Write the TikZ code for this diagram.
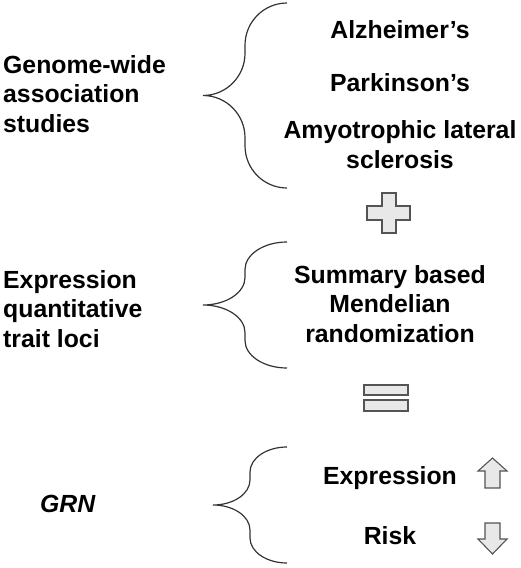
\documentclass[tikz,border=0pt]{standalone}
\usepackage{fontspec}
\setmainfont{Liberation Sans}
\usepackage{tikz}
\definecolor{mgray}{rgb}{0.91, 0.91, 0.91}
\definecolor{dgray}{rgb}{0.33, 0.33, 0.33}

\begin{document}
\begin{tikzpicture}[x=1pt, y=1pt,
    txt/.style={font=\fontsize{24.8}{29.5}\selectfont\bfseries, inner sep=0pt, align=center},
    ltxt/.style={txt, align=left, anchor=base west},
    curly/.style={draw=black!80, line width=1.2pt},
    sign/.style={draw=dgray, fill=mgray, line width=1.1pt}]

    \useasboundingbox (0, 0) rectangle (520, -568);

    % left column (base = last line)
    \node [ltxt] (gwas) at (3, -132) {Genome-wide\\association\\studies};
    \node [ltxt] (eqtl) at (3, -347) {Expression\\quantitative\\trait loci};
    \node [ltxt, font=\fontsize{24.8}{29.5}\selectfont\bfseries\itshape] (grn) at (40, -512) {GRN};

    % right column
    \node [txt, anchor=base] (alz) at (400, -38) {Alzheimer's};
    \node [txt, anchor=base] (park) at (400, -91) {Parkinson's};
    \node [txt, anchor=base] (als) at (400, -168) {Amyotrophic lateral\\sclerosis};
    \node [txt, anchor=base] (smr) at (390, -342) {Summary based\\Mendelian\\randomization};
    \node [txt, anchor=base] (expr) at (390, -484) {Expression};
    \node [txt, anchor=base] (risk) at (390, -544) {Risk};

    % braces
    \draw [curly] (287, -3)
      arc [start angle=90, end angle=180, x radius=42, y radius=42.25] -- ++(0, -8)
      arc [start angle=0, end angle=-90, x radius=42, y radius=42.25]
      arc [start angle=90, end angle=0, x radius=42, y radius=42.25] -- ++(0, -8)
      arc [start angle=180, end angle=270, x radius=42, y radius=42.25];
    \draw [curly] (287, -242)
      arc [start angle=90, end angle=180, x radius=42, y radius=27.5] -- ++(0, -8)
      arc [start angle=0, end angle=-90, x radius=42, y radius=27.5]
      arc [start angle=90, end angle=0, x radius=42, y radius=27.5] -- ++(0, -8)
      arc [start angle=180, end angle=270, x radius=42, y radius=27.5];
    \draw [curly] (287, -447)
      arc [start angle=90, end angle=180, x radius=37, y radius=25] -- ++(0, -8)
      arc [start angle=0, end angle=-90, x radius=37, y radius=25]
      arc [start angle=90, end angle=0, x radius=37, y radius=25] -- ++(0, -8)
      arc [start angle=180, end angle=270, x radius=37, y radius=25];

    % plus
    \draw [sign] (382, -193) -- (396, -193) -- (396, -206) -- (410, -206) -- (410, -220)
      -- (396, -220) -- (396, -233) -- (382, -233) -- (382, -220) -- (367, -220)
      -- (367, -206) -- (382, -206) -- cycle;

    % equals
    \draw [sign] (364, -385) rectangle (408, -395);
    \draw [sign] (364, -400) rectangle (408, -411);

    % up and down
    \draw [sign] (492.5, -458) -- (507, -471) -- (500, -471) -- (500, -488)
      -- (485, -488) -- (485, -471) -- (478, -471) -- cycle;
    \draw [sign] (492.5, -554) -- (507, -539) -- (500, -539) -- (500, -523)
      -- (485, -523) -- (485, -539) -- (478, -539) -- cycle;

\end{tikzpicture}
\end{document}
